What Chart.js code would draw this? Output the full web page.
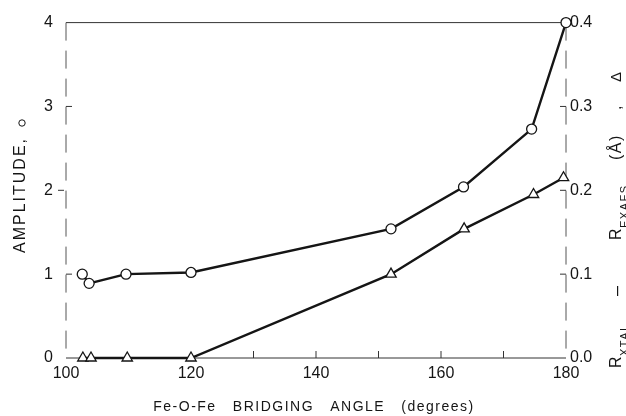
<!DOCTYPE html>
<html lang="en">
<head>
<meta charset="UTF-8">
<title>Fe-O-Fe bridging angle</title>
<script src="https://cdn.jsdelivr.net/npm/chart.js"></script>
<style>
  html, body { margin: 0; padding: 0; background: #fff; }
  canvas { display: block; }
</style>
</head>
<body>
<canvas id="chartAngle" width="626" height="416"></canvas>
<script>
// amplitude, open circles, left axis
const ampAngles = [102.6, 103.7, 109.6, 120, 152, 163.6, 174.5, 180];
const amplitude = [1.0, 0.89, 1.0, 1.02, 1.54, 2.04, 2.73, 4.0];
// R(xtal) - R(exafs) in angstrom, open triangles, right axis
const diffAngles = [102.7, 104.0, 109.8, 120, 152, 163.7, 174.8, 179.6];
const rDiff = [0, 0, 0, 0, 0.10, 0.154, 0.195, 0.215];

const xTicks = [100, 120, 140, 160, 180];
const ampTicks = [0, 1, 2, 3, 4];
const diffTicks = [0.0, 0.1, 0.2, 0.3, 0.4];

const ink = '#151515';
const face = '"Liberation Sans", Arial, sans-serif';

function pairs(xs, ys) {
  return xs.map((x, i) => ({ x: x, y: ys[i] }));
}

// box, inward ticks and the axis titles
const framePlugin = {
  id: 'frame',
  beforeDatasetsDraw(chart) {
    const { ctx, chartArea: a, scales } = chart;
    ctx.save();
    ctx.strokeStyle = '#333';
    ctx.lineWidth = 1;
    ctx.beginPath();
    ctx.moveTo(a.left, a.top); ctx.lineTo(a.right, a.top);
    ctx.moveTo(a.left, a.bottom); ctx.lineTo(a.right, a.bottom);
    ctx.stroke();

    ctx.strokeStyle = '#555';
    ctx.setLineDash([18, 10]);
    ctx.beginPath();
    ctx.moveTo(a.left, a.top); ctx.lineTo(a.left, a.bottom);
    ctx.moveTo(a.right, a.top); ctx.lineTo(a.right, a.bottom);
    ctx.stroke();
    ctx.setLineDash([]);

    ctx.strokeStyle = '#333';
    ctx.beginPath();
    [1, 3].forEach(v => {
      const y = scales.y.getPixelForValue(v);
      ctx.moveTo(a.left, y); ctx.lineTo(a.left + 6, y);
    });
    const y2 = scales.y.getPixelForValue(2);
    ctx.moveTo(a.left - 8, y2); ctx.lineTo(a.left - 2, y2);
    [0.1, 0.2, 0.3].forEach(v => {
      const y = scales.y2.getPixelForValue(v);
      ctx.moveTo(a.right - 6, y); ctx.lineTo(a.right, y);
    });
    [130, 140, 150, 160, 170].forEach(v => {
      const x = scales.x.getPixelForValue(v);
      ctx.moveTo(x, a.bottom); ctx.lineTo(x, a.bottom - 7);
    });
    ctx.stroke();
    ctx.restore();
  },
  afterDraw(chart) {
    const { ctx } = chart;
    ctx.save();
    ctx.fillStyle = ink;
    ctx.strokeStyle = ink;

    // x title
    ctx.font = '14px ' + face;
    ctx.letterSpacing = '1.5px';
    ctx.textAlign = 'center';
    ctx.textBaseline = 'middle';
    ctx.fillText('Fe-O-Fe   BRIDGING   ANGLE   (degrees)', 314, 407);

    // left title, reads bottom to top
    ctx.save();
    ctx.translate(21, 253);
    ctx.rotate(-Math.PI / 2);
    ctx.textAlign = 'left';
    ctx.font = '16px ' + face;
    ctx.letterSpacing = '2px';
    ctx.fillText('AMPLITUDE,', 0, 0);
    ctx.restore();
    ctx.lineWidth = 1;
    ctx.beginPath();
    ctx.arc(22, 123, 3.2, 0, Math.PI * 2);
    ctx.stroke();

    // right title with subscripts
    const pieces = [
      { t: 'R', at: 368, size: 16, dy: 0 },
      { t: 'XTAL', at: 356, size: 11, dy: 8 },
      { t: '–', at: 296, size: 18, dy: 0 },
      { t: 'R', at: 240, size: 16, dy: 0 },
      { t: 'EXAFS', at: 228, size: 11, dy: 8 },
      { t: '(Å)', at: 160, size: 16, dy: 0 },
      { t: ',', at: 110, size: 16, dy: 0 },
      { t: 'Δ', at: 82, size: 15, dy: 0 }
    ];
    pieces.forEach(p => {
      ctx.save();
      ctx.translate(617, p.at);
      ctx.rotate(-Math.PI / 2);
      ctx.textAlign = 'left';
      ctx.font = p.size + 'px ' + face;
      ctx.letterSpacing = '1.5px';
      ctx.fillText(p.t, 0, p.dy);
      ctx.restore();
    });
    ctx.restore();
  }
};

new Chart(document.getElementById('chartAngle'), {
  type: 'line',
  data: {
    datasets: [
      {
        label: 'Amplitude',
        data: pairs(ampAngles, amplitude),
        yAxisID: 'y',
        borderColor: ink,
        borderWidth: 2.4,
        backgroundColor: '#fff',
        pointStyle: 'circle',
        pointRadius: 5,
        pointBorderWidth: 1.3,
        pointBackgroundColor: '#fff',
        pointBorderColor: ink,
        tension: 0,
        clip: false
      },
      {
        label: 'R xtal - R exafs',
        data: pairs(diffAngles, rDiff),
        yAxisID: 'y2',
        borderColor: ink,
        borderWidth: 2.4,
        backgroundColor: '#fff',
        pointStyle: 'triangle',
        pointRadius: 6,
        pointBorderWidth: 1.3,
        pointBackgroundColor: '#fff',
        pointBorderColor: ink,
        tension: 0,
        clip: false
      }
    ]
  },
  options: {
    responsive: false,
    animation: false,
    layout: { padding: { top: 18, left: 0, right: 0, bottom: 0 } },
    plugins: { legend: { display: false }, tooltip: { enabled: false } },
    scales: {
      x: {
        type: 'linear',
        min: 100,
        max: 180,
        grid: { display: false, drawTicks: false },
        border: { display: false },
        afterBuildTicks: s => { s.ticks = xTicks.map(v => ({ value: v })); },
        afterFit: s => { s.height = 58; },
        ticks: { padding: 6, color: ink, font: { family: face, size: 16 }, maxRotation: 0 }
      },
      y: {
        position: 'left',
        min: 0,
        max: 4,
        grid: { display: false, drawTicks: false },
        border: { display: false },
        afterBuildTicks: s => { s.ticks = ampTicks.map(v => ({ value: v })); },
        afterFit: s => { s.width = 66; },
        ticks: { padding: 13, color: ink, font: { family: face, size: 16 } }
      },
      y2: {
        position: 'right',
        min: 0,
        max: 0.4,
        grid: { display: false, drawTicks: false },
        border: { display: false },
        afterBuildTicks: s => { s.ticks = diffTicks.map(v => ({ value: v })); },
        afterFit: s => { s.width = 60; },
        ticks: {
          padding: 4,
          color: ink,
          font: { family: face, size: 16 },
          callback: v => Number(v).toFixed(1)
        }
      }
    }
  },
  plugins: [framePlugin]
});
</script>
</body>
</html>
